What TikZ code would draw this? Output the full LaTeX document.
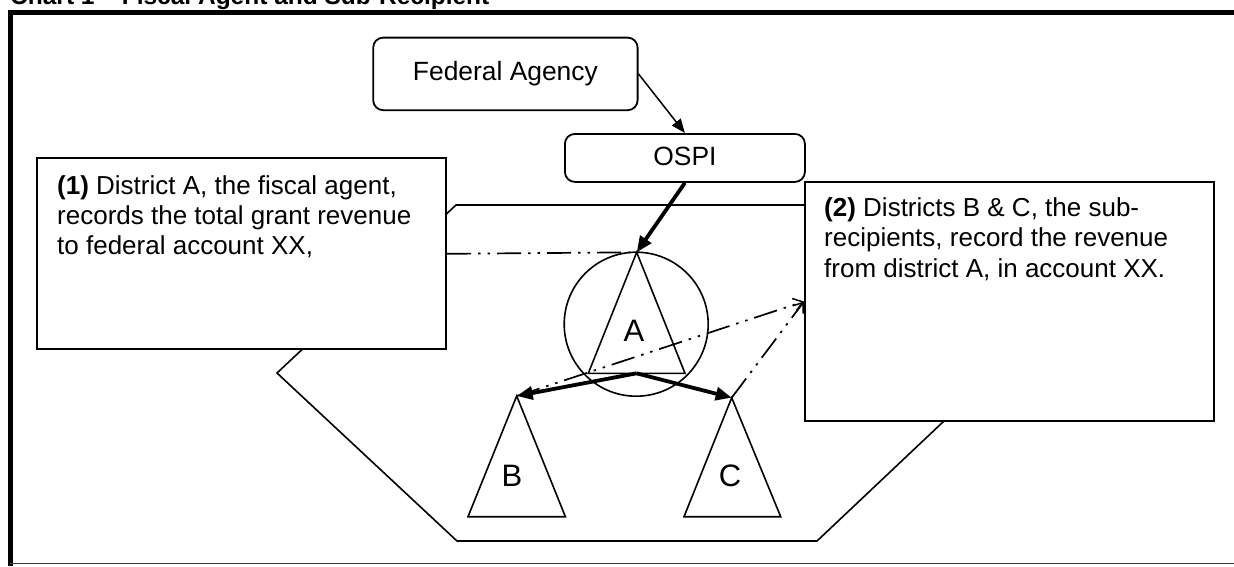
\documentclass[tikz,border=0pt]{standalone}
\usepackage{fontspec}
\setmainfont{Liberation Sans}
\usetikzlibrary{arrows.meta}
\tikzset{
  roundbox/.style={draw, line width=1.8pt, rounded corners=10pt, fill=white, inner sep=0pt},
  notebox/.style={draw, line width=2pt, fill=white, inner sep=0pt},
  notetext/.style={anchor=base west, align=left, inner sep=0pt, font=\fontsize{26}{30.2}\selectfont},
  shapeline/.style={line width=1.6pt, line join=miter},
  thickarrow/.style={line width=3.8pt, -{Triangle[length=16pt,width=13pt]}},
  thinarrow/.style={line width=1.5pt, -{Triangle[length=14pt,width=11pt]}},
  dashdotdot/.style={line width=1.7pt, dash pattern=on 24pt off 7pt on 2.5pt off 7pt on 2.5pt off 7pt},
  openhead/.style={-{Straight Barb[length=9pt,width=13pt,line width=1.5pt]}},
  lbl/.style={font=\fontsize{26.4}{30}\selectfont, inner sep=0pt},
  biglbl/.style={font=\fontsize{31}{34}\selectfont, inner sep=0pt}
}
\begin{document}
\begin{tikzpicture}[x=1pt,y=-1pt]
\useasboundingbox (0,0) rectangle (1234,566);
\clip (0,0) rectangle (1234,566);
\fill[white] (0,0) rectangle (1234,566);

% title (mostly cut off at the top)
\node[anchor=base west, inner sep=0pt, font=\bfseries\fontsize{24.5}{28}\selectfont] (title) at (10,4) {Chart 1 -- Fiscal Agent and Sub-Recipient};

% frame
\draw[line width=4.5pt] (8.3,12.7) -- (1234,12.7);
\draw[line width=4.5pt] (10.5,10.5) -- (10.5,566);
\draw[line width=1.5pt, black!75] (10,563.5) -- (1234,563.5);

% polygon region
\draw[shapeline] (456,205) -- (995,205) -- (995,375) -- (944,421) -- (817,541) -- (457,541) -- (277,373) -- cycle;

% boxes
\node[roundbox, minimum width=264.4pt, minimum height=72.6pt, anchor=north west] (fed) at (372.3,36.7) {};
\node[lbl] at (fed.center) {Federal Agency};
\node[roundbox, minimum width=240pt, minimum height=48pt, anchor=north west] (ospi) at (564,133) {};
\node[lbl] at ([yshift=1pt]ospi.center) {OSPI};

\node[notebox, minimum width=409.3pt, minimum height=191pt, anchor=north west] (box1) at (35.7,157.3) {};
\node[notetext] (t1) at (57,254.7) {\textbf{(1)} District A, the fiscal agent,\\records the total grant revenue\\to federal account XX,};

\node[notebox, minimum width=408.7pt, minimum height=239pt, anchor=north west] (box2) at (804,181) {};
\node[notetext] (t2) at (824,277.1) {\textbf{(2)} Districts B \& C, the sub-\\recipients, record the revenue\\from district A, in account XX.};

% district A
\node[draw, circle, line width=1.6pt, minimum size=144pt, inner sep=0pt] (circA) at (636.2,324.2) {};
\coordinate (Aapex) at (636.7,252.3);
\coordinate (Abase) at (636.5,373.3);
\draw[shapeline] (Aapex) -- (588.3,373.3) -- (685,373.3) -- cycle;
\node[biglbl] (labA) at (634,331) {A};

% district B
\coordinate (Bapex) at (516.7,396);
\draw[shapeline] (Bapex) -- (468,516.7) -- (565.4,516.7) -- cycle;
\node[biglbl] (labB) at (512,476) {B};

% district C
\coordinate (Capex) at (731.7,397.7);
\draw[shapeline] (Capex) -- (684,516.7) -- (780.7,516.7) -- cycle;
\node[biglbl] (labC) at (730,476) {C};

% connectors
\draw[thinarrow] (fed.east) -- (ospi.north);
\draw[thickarrow] (ospi.south) -- (Aapex);
\draw[thickarrow] (Abase) -- (Bapex);
\draw[thickarrow] (Abase) -- (Capex);

\draw[dashdotdot] (box1.east) -- (Aapex);
\draw[dashdotdot, openhead] (Bapex) -- (box2.west);
\draw[dashdotdot, openhead] (Capex) -- (box2.west);
\end{tikzpicture}
\end{document}
